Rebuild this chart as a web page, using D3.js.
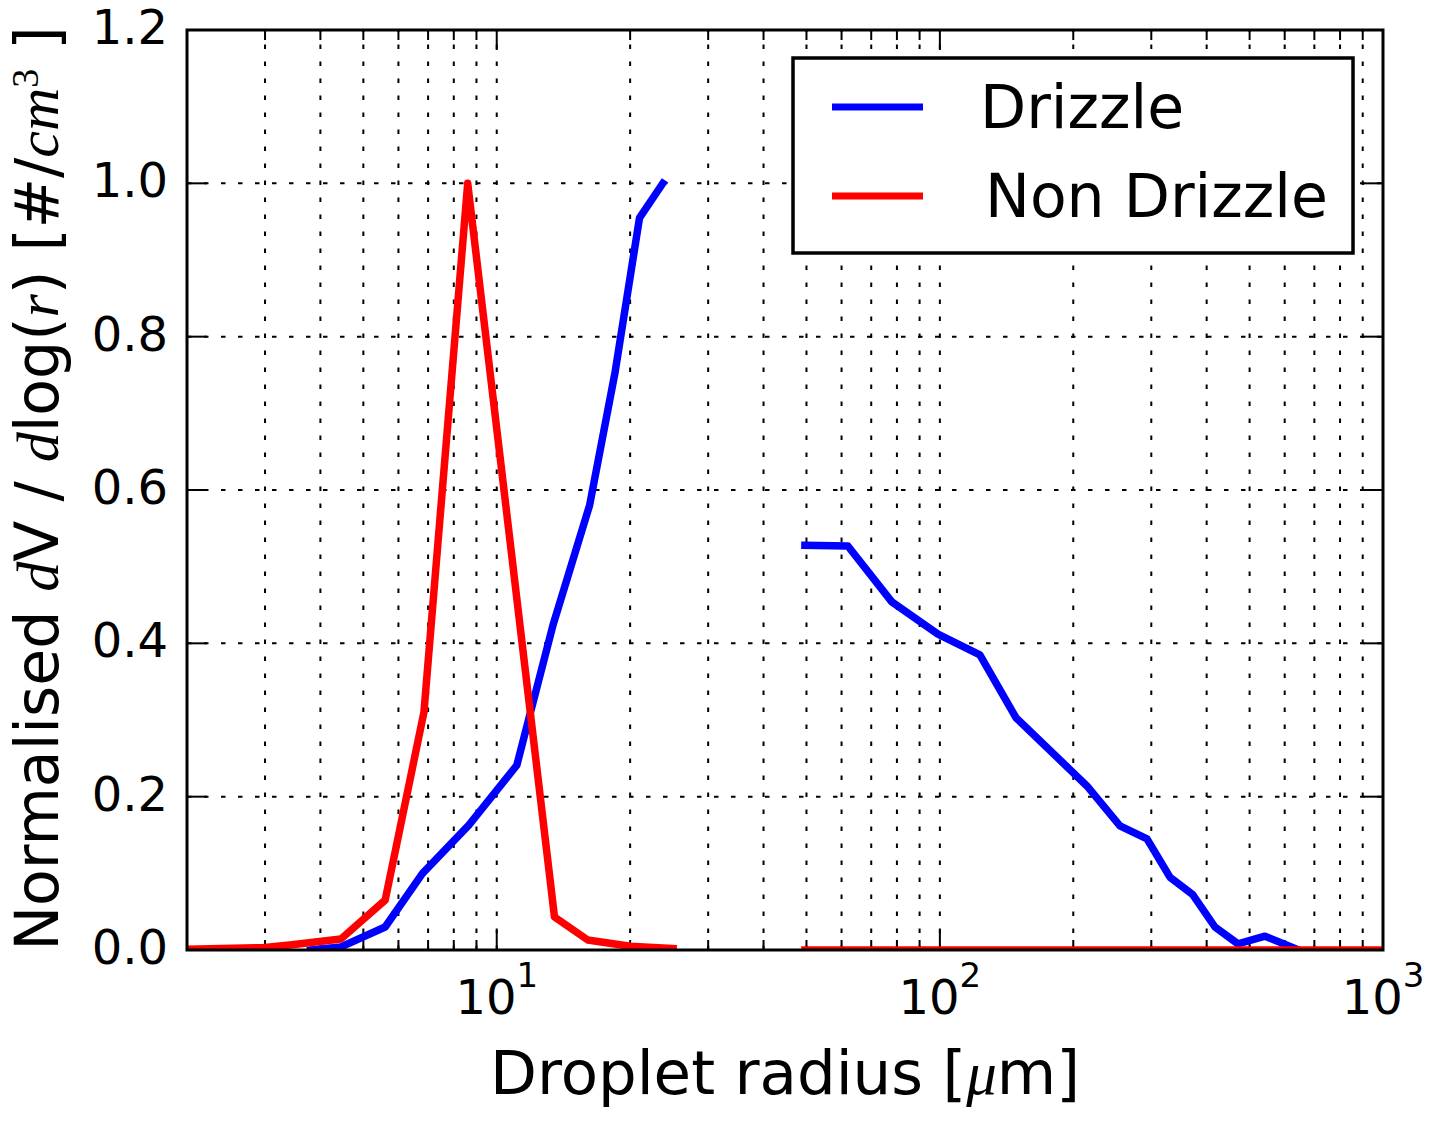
<!DOCTYPE html>
<html><head><meta charset="utf-8">
<script src="https://cdn.jsdelivr.net/npm/d3@7"></script>
<style>
body{margin:0;background:#fff}
svg{display:block}
text{font-family:"DejaVu Sans",sans-serif;fill:#000}
.m{font-family:"Liberation Serif","DejaVu Serif",serif;font-style:italic}
.mr{font-family:"Liberation Serif","DejaVu Serif",serif}
</style>
</head><body>
<svg id="c" width="1447" height="1123"></svg>
<script>
// ---- data ----
const yTicks = [0, 0.2, 0.4, 0.6, 0.8, 1.0, 1.2];
const yTickLabels = ["0.0", "0.2", "0.4", "0.6", "0.8", "1.0", "1.2"];
const xMajor = [10, 100, 1000];
const xMajorExp = ["1", "2", "3"];
const seriesNames = ["Drizzle", "Non Drizzle"];
const seriesColors = ["#0000ff", "#ff0000"];

// Drizzle (two separate segments)
const drizzleR1 = [3.8, 4.45, 5.6, 6.8, 8.65, 11.1, 13.4, 16.2, 18.5, 21.0, 23.7];
const drizzleV1 = [0.0, 0.004, 0.030, 0.100, 0.163, 0.241, 0.424, 0.58, 0.754, 0.955, 1.0];
const drizzleR2 = [49.6, 62.0, 77.9, 99.0, 123.1, 148.5, 214.7, 254.9, 293.4, 330.5, 372.4, 417.6, 470.7, 541.6, 639.5];
const drizzleV2 = [0.528, 0.527, 0.454, 0.412, 0.385, 0.303, 0.214, 0.162, 0.145, 0.095, 0.072, 0.030, 0.008, 0.018, 0.001];

// Non Drizzle (two separate segments)
const nonDrizzleR1 = [2.0, 2.96, 3.41, 4.45, 5.6, 6.85, 8.6, 13.5, 16.05, 20.0, 25.0];
const nonDrizzleV1 = [0.001, 0.003, 0.0065, 0.0143, 0.065, 0.31, 1.0, 0.043, 0.013, 0.005, 0.002];
const nonDrizzleR2 = [49.6, 62.0, 77.9, 99.0, 123.1, 148.5, 214.7, 254.9, 293.4, 330.5, 372.4, 417.6, 470.7, 541.6, 639.5, 750, 880, 1000];
const nonDrizzleV2 = [0, 0, 0, 0, 0, 0, 0, 0, 0, 0, 0, 0, 0, 0, 0, 0, 0, 0];

// ---- layout ----
const L = 187, R = 1383, T = 30, B = 950;
const svg = d3.select("#c");
const x = d3.scaleLog().domain([2, 1000]).range([L, R]);
const y = d3.scaleLinear().domain([0, 1.2]).range([B, T]);

// all x ticks (minor + major)
const xAll = [];
[1, 10, 100].forEach(d => { for (let k = 1; k <= 9; k++) { const v = k * d; if (v >= 2 && v <= 1000) xAll.push(v); } });
xAll.push(1000);
const xMinor = xAll.filter(v => !xMajor.includes(v));

// grid
const grid = svg.append("g").attr("stroke", "#000").attr("stroke-width", 2).attr("stroke-dasharray", "4.5,12.5");
grid.selectAll("line.v").data(xAll.filter(v => v > 2 && v < 1000)).join("line")
  .attr("x1", d => x(d)).attr("x2", d => x(d)).attr("y1", B).attr("y2", T);
grid.selectAll("line.h").data(yTicks.filter(v => v > 0 && v < 1.2)).join("line")
  .attr("x1", L).attr("x2", R).attr("y1", d => y(d)).attr("y2", d => y(d));

// ticks (inward, all sides)
const tk = svg.append("g").attr("stroke", "#000").attr("stroke-width", 2);
xMajor.forEach(v => {
  tk.append("line").attr("x1", x(v)).attr("x2", x(v)).attr("y1", B).attr("y2", B - 20);
  tk.append("line").attr("x1", x(v)).attr("x2", x(v)).attr("y1", T).attr("y2", T + 20);
});
xMinor.forEach(v => {
  tk.append("line").attr("x1", x(v)).attr("x2", x(v)).attr("y1", B).attr("y2", B - 10);
  tk.append("line").attr("x1", x(v)).attr("x2", x(v)).attr("y1", T).attr("y2", T + 10);
});
yTicks.forEach(v => {
  tk.append("line").attr("x1", L).attr("x2", L + 20).attr("y1", y(v)).attr("y2", y(v));
  tk.append("line").attr("x1", R).attr("x2", R - 20).attr("y1", y(v)).attr("y2", y(v));
});

// lines
svg.append("clipPath").attr("id", "clip").append("rect")
  .attr("x", L).attr("y", T - 10).attr("width", R - L).attr("height", B - T + 10);
const line = d3.line().x(d => x(d[0])).y(d => y(d[1]));
const plot = svg.append("g").attr("clip-path", "url(#clip)").attr("fill", "none")
  .attr("stroke-width", 7.5).attr("stroke-linejoin", "round").attr("stroke-linecap", "square");
[[drizzleR1, drizzleV1], [drizzleR2, drizzleV2]].forEach(([r, v]) =>
  plot.append("path").attr("stroke", seriesColors[0]).attr("d", line(r.map((d, i) => [d, v[i]]))));
[[nonDrizzleR1, nonDrizzleV1], [nonDrizzleR2, nonDrizzleV2]].forEach(([r, v]) =>
  plot.append("path").attr("stroke", seriesColors[1]).attr("d", line(r.map((d, i) => [d, v[i]]))));

// frame
svg.append("rect").attr("x", L).attr("y", T).attr("width", R - L).attr("height", B - T)
  .attr("fill", "none").attr("stroke", "#000").attr("stroke-width", 3);

// y tick labels
svg.append("g").selectAll("text").data(yTicks).join("text")
  .attr("x", L - 19).attr("y", d => y(d) + 14).attr("text-anchor", "end")
  .attr("font-size", 48).text((d, i) => yTickLabels[i]);

// x tick labels
const xl = svg.append("g");
xMajor.forEach((v, i) => {
  const t = xl.append("text").attr("x", x(v)).attr("y", 1014).attr("text-anchor", "middle").attr("font-size", 48);
  t.append("tspan").text("10");
  t.append("tspan").attr("font-size", 34).attr("dy", -27).text(xMajorExp[i]);
});

// axis labels
const xt = svg.append("text").attr("x", (L + R) / 2).attr("y", 1094).attr("text-anchor", "middle").attr("font-size", 61);
xt.append("tspan").text("Droplet radius [");
xt.append("tspan").attr("class", "m").text("μ");
xt.append("tspan").text("m]");

const yt = svg.append("text").attr("transform", `translate(58,${(22 + 955) / 2}) rotate(-90)`)
  .attr("text-anchor", "middle").attr("font-size", 60);
yt.append("tspan").text("Normalised ");
yt.append("tspan").attr("class", "m").text("d");
yt.append("tspan").text("V / ");
yt.append("tspan").attr("class", "m").text("d");
yt.append("tspan").text("log(");
yt.append("tspan").attr("class", "m").text("r");
yt.append("tspan").text(") [#/");
yt.append("tspan").attr("class", "m").text("cm");
yt.append("tspan").attr("class", "mr").attr("font-size", 38).attr("dy", -20).text("3");
yt.append("tspan").attr("dy", 20).text(" ]");

// legend
const lg = svg.append("g");
lg.append("rect").attr("x", 793).attr("y", 58).attr("width", 560).attr("height", 195)
  .attr("fill", "#fff").attr("stroke", "#000").attr("stroke-width", 3.5);
const legendTextX = [980, 985];
seriesNames.forEach((n, i) => {
  const yy = 107 + i * 89;
  lg.append("line").attr("x1", 832).attr("x2", 923).attr("y1", yy).attr("y2", yy)
    .attr("stroke", seriesColors[i]).attr("stroke-width", 7);
  lg.append("text").attr("x", legendTextX[i]).attr("y", yy + 21).attr("font-size", 60).text(n);
});
</script>
</body></html>
